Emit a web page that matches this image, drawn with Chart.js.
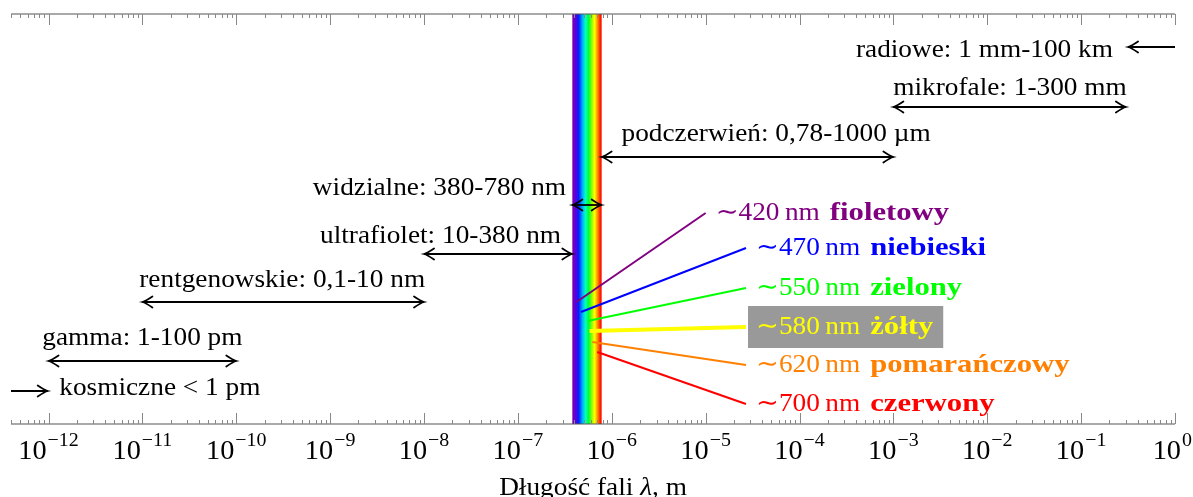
<!DOCTYPE html>
<html><head><meta charset="utf-8">
<script src="https://cdn.jsdelivr.net/npm/chart.js@4.4.1/dist/chart.umd.min.js"></script>
<style>html,body{margin:0;padding:0;background:#fff;overflow:hidden}#wrap{width:1193px;height:497px}</style>
</head><body><div id="wrap"><canvas id="c" width="1193" height="497"></canvas></div>
<script>
// ---------- data ----------
const xMinExp = -12.4;
const xMaxExp = 0;
const tickExponents = [-12,-11,-10,-9,-8,-7,-6,-5,-4,-3,-2,-1,0];
const axisTitle = ['Długość fali ', 'λ', ', m'];

// wavelength bands (metres)
const bandLabels = ['radiowe: 1 mm-100 km','mikrofale: 1-300 mm','podczerwień: 0,78-1000 µm','widzialne: 380-780 nm','ultrafiolet: 10-380 nm','rentgenowskie: 0,1-10 nm','gamma: 1-100 pm','kosmiczne < 1 pm'];
const bandFrom   = [1, 1e-3, 7.8e-7, 3.8e-7, 1e-8, 1e-11, 1e-12, Math.pow(10,-12.4)];
const bandTo     = [Math.pow(10,-0.5), 0.3, 1e-3, 7.8e-7, 3.8e-7, 1e-8, 1e-10, 0.98e-12];
const bandHeadFrom = [false,true,true,true,true,true,true,false];
const bandArrowY = [37.7, 31.7, 26.7, 21.9, 17.0, 12.2, 6.3, 3.3];
const bandLabelX = [Math.pow(10,-0.661), Math.pow(10,-1.758), Math.pow(10,-4.25), Math.pow(10,-6.487), Math.pow(10,-6.54), Math.pow(10,-9.511), Math.pow(10,-11.0), Math.pow(10,-11.886)];
const bandLabelY = [37.4, 33.6, 29.0, 23.6, 18.8, 14.4, 8.6, 3.6];
const bandLabelAlign = ['right','center','center','right','right','center','center','left'];

// visible spectrum
const visibleFrom = 3.8e-7, visibleTo = 7.8e-7;
const spectrumStops  = [0, 0.12, 0.22, 0.34, 0.45, 0.56, 0.68, 0.76, 0.86, 0.95, 1];
const spectrumColors = ['#7a00a8','#5a00e0','#0020ff','#00a8ff','#00ffc0','#00ff30','#a0ff00','#ffff00','#ff9000','#ff2000','#ff0000'];

// colour call-outs
const colorNm       = [420, 470, 550, 580, 620, 700];
const colorNames    = ['fioletowy','niebieski','zielony','żółty','pomarańczowy','czerwony'];
const colorHex      = ['#800080','#0000ff','#00ff00','#ffff00','#ff8000','#ff0000'];
const colorStartY   = [12.2, 11.2, 10.3, 9.3, 8.2, 7.2];
const colorLabelX   = [1e-5, Math.pow(10,-4.57), Math.pow(10,-4.57), Math.pow(10,-4.57), Math.pow(10,-4.57), Math.pow(10,-4.57)];
const colorLabelY   = [21.1, 17.6, 13.6, 9.7, 5.9, 2.0];
const colorBoxed    = [false,false,false,true,false,false];

// ---------- styles ----------
const FONT = '"Liberation Serif", "DejaVu Serif", serif';
const FS = 26;
const SX = 1.05;
const SXB = 1.18;

const datasets = [];
colorNm.forEach((nm,i)=>{
  datasets.push({data:[{x:nm*1e-9,y:colorStartY[i]},{x:colorLabelX[i],y:colorLabelY[i]}],
    borderColor:colorHex[i], borderWidth: colorBoxed[i]?4:2, pointRadius:0, fill:false, tension:0});
});
bandFrom.forEach((f,i)=>{
  datasets.push({data:[{x:f,y:bandArrowY[i]},{x:bandTo[i],y:bandArrowY[i]}],
    borderColor:'#000', borderWidth:1.8, pointRadius:0, fill:false, tension:0, clip:false});
});

function head(ctx, x, y, dir){
  ctx.save();
  ctx.translate(x,y); ctx.scale(dir,1);
  ctx.beginPath();
  ctx.moveTo(-10,-5.5); ctx.quadraticCurveTo(-3,-0.8,0,0); ctx.quadraticCurveTo(-3,0.8,-10,5.5);
  ctx.strokeStyle='#000'; ctx.lineWidth=1.8; ctx.lineCap='round'; ctx.stroke();
  ctx.restore();
}
function sText(ctx, t, x, y, align, font, sx){
  ctx.font = font;
  const w = ctx.measureText(t).width*sx;
  let l = align==='right'? x-w : align==='center'? x-w/2 : x;
  ctx.save(); ctx.translate(l,y); ctx.scale(sx,1); ctx.textAlign='left'; ctx.fillText(t,0,0); ctx.restore();
  return w;
}
function sWidth(ctx,t,font,sx){ ctx.font=font; return ctx.measureText(t).width*sx; }

const plug = {
  id:'spectrum',
  beforeDatasetsDraw(chart){
    const {ctx, chartArea:a, scales:{x}} = chart;
    const x0 = x.getPixelForValue(visibleFrom), x1 = x.getPixelForValue(visibleTo);
    const g = ctx.createLinearGradient(x0,0,x1,0);
    spectrumStops.forEach((s,i)=>g.addColorStop(s,spectrumColors[i]));
    ctx.save(); ctx.fillStyle=g; ctx.fillRect(x0,a.top,x1-x0,a.bottom-a.top);
    ctx.strokeStyle='#555'; ctx.lineWidth=1.2;
    ctx.beginPath(); ctx.moveTo(a.left,a.top); ctx.lineTo(a.right,a.top);
    ctx.moveTo(a.left,a.bottom); ctx.lineTo(a.right,a.bottom); ctx.stroke();
    ctx.strokeStyle='#888'; ctx.lineWidth=1;
    ctx.beginPath();
    tickExponents.forEach(e=>{
      const px = Math.round(x.getPixelForValue(Math.pow(10,e)))+0.5;
      ctx.moveTo(px,a.top); ctx.lineTo(px,a.top+11);
      ctx.moveTo(px,a.bottom); ctx.lineTo(px,a.bottom-11);
    });
    for(let e=-13;e<0;e++){ for(let m=2;m<10;m++){
      const v=m*Math.pow(10,e); if(v<x.min||v>x.max) continue;
      const px=Math.round(x.getPixelForValue(v))+0.5;
      ctx.moveTo(px,a.top); ctx.lineTo(px,a.top+4);
      ctx.moveTo(px,a.bottom); ctx.lineTo(px,a.bottom-4);
    }}
    ctx.stroke();
    ctx.restore();
  },
  afterDatasetsDraw(chart){
    const {ctx, chartArea:a, scales:{x,y}} = chart;
    ctx.save();
    bandFrom.forEach((f,i)=>{
      const pf=x.getPixelForValue(f), pt=x.getPixelForValue(bandTo[i]), py=y.getPixelForValue(bandArrowY[i]);
      const d = pt>pf?1:-1;
      head(ctx,pt,py,d);
      if(bandHeadFrom[i]) head(ctx,pf,py,-d);
    });
    const REG = FS+'px '+FONT, BOLD='bold '+FS+'px '+FONT;
    ctx.textBaseline='middle'; ctx.fillStyle='#000';
    bandLabels.forEach((t,i)=>{
      sText(ctx,t,x.getPixelForValue(bandLabelX[i]),y.getPixelForValue(bandLabelY[i]),bandLabelAlign[i],REG,SX);
    });
    colorNm.forEach((nm,i)=>{
      const px = x.getPixelForValue(colorLabelX[i])+10, py=y.getPixelForValue(colorLabelY[i]);
      const t1 = '∼'+nm+'\u2009nm';
      const w1=sWidth(ctx,t1,REG,SX), w2=sWidth(ctx,colorNames[i],BOLD,SXB);
      if(colorBoxed[i]){ ctx.fillStyle='#999999'; ctx.fillRect(px-8,py-21,w1+10+w2+18,42); }
      ctx.fillStyle=colorHex[i];
      sText(ctx,t1,px,py,'left',REG,SX);
      sText(ctx,colorNames[i],px+w1+10,py,'left',BOLD,SXB);
    });
    ctx.fillStyle='#000'; ctx.textBaseline='alphabetic';
    const TB = '27px '+FONT, TS = '19px '+FONT;
    const W = chart.width;
    tickExponents.forEach(e=>{
      const px=x.getPixelForValue(Math.pow(10,e));
      const base='10', sup=(e<0?'\u2212':'')+Math.abs(e);
      const wb=sWidth(ctx,base,TB,SX), ws=sWidth(ctx,sup,TS,SX);
      let sx = px-(wb+ws+1)/2;
      sx = Math.min(sx, W-1-(wb+ws+1));
      sText(ctx,base,sx,a.bottom+35,'left',TB,SX);
      sText(ctx,sup,sx+wb+1,a.bottom+22,'left',TS,SX);
    });
    const tf=[REG,'italic '+FS+'px '+FONT,REG];
    let widths=axisTitle.map((t,i)=>sWidth(ctx,t,tf[i],SX));
    let tx=(a.left+a.right)/2-widths.reduce((s,v)=>s+v,0)/2;
    axisTitle.forEach((t,i)=>{sText(ctx,t,tx,a.bottom+71,'left',tf[i],SX);tx+=widths[i];});
    ctx.restore();
  }
};

new Chart(document.getElementById('c'),{
  type:'line',
  data:{datasets},
  options:{
    responsive:false, animation:false, devicePixelRatio:1,
    layout:{padding:{left:11,right:18,top:14,bottom:73}},
    plugins:{legend:{display:false},tooltip:{enabled:false}},
    scales:{
      x:{type:'logarithmic',min:Math.pow(10,xMinExp),max:Math.pow(10,xMaxExp),display:false},
      y:{type:'linear',min:0,max:41,display:false}
    }
  },
  plugins:[plug]
});
</script></body></html>
